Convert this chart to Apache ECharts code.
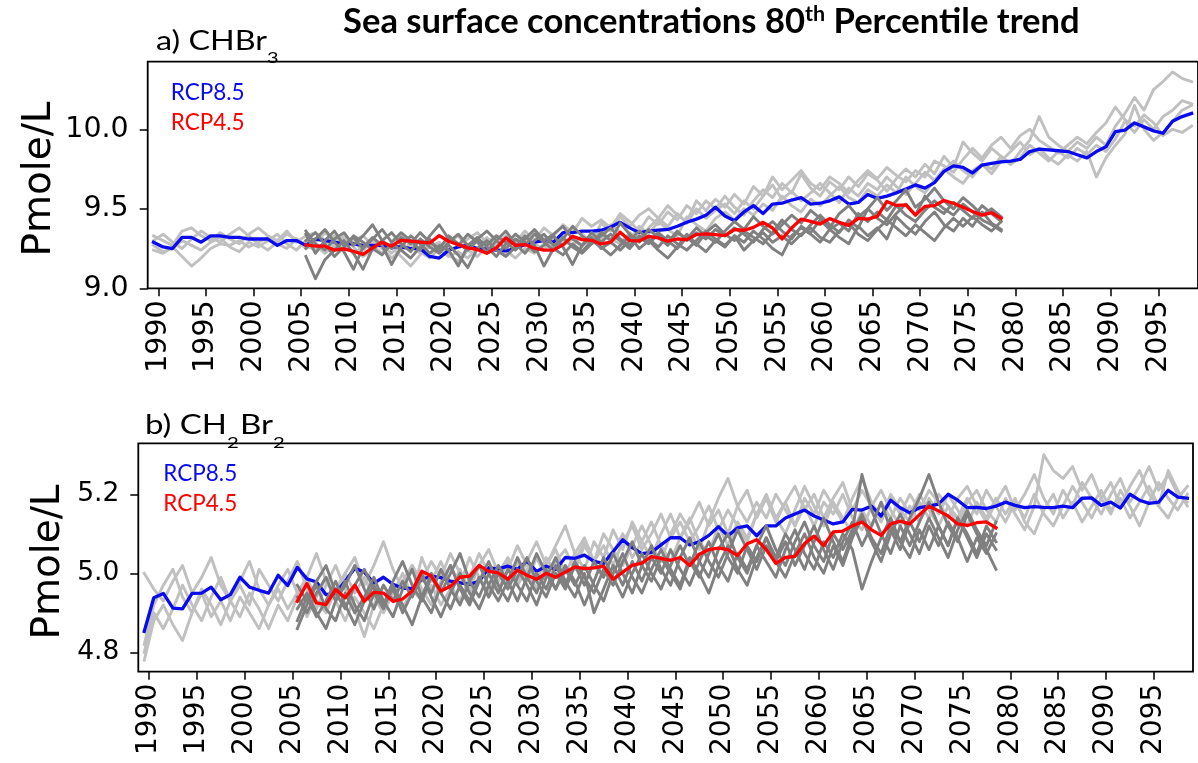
<!DOCTYPE html>
<html><head><meta charset="utf-8">
<script src="https://cdn.jsdelivr.net/npm/echarts@6/dist/echarts.min.js"></script>
<style>html,body{margin:0;padding:0;background:#fff}#c{width:1198px;height:763px}</style>
</head><body><div id="c"></div>
<script>
// ---------------- DATA ----------------
const HIST_START = 1989, HIST_END = 2098;   // RCP8.5 runs (annual means)
const RCP45_START = 2005, RCP45_END = 2078; // RCP4.5 runs (annual means)
const xTickValues = [1990,1995,2000,2005,2010,2015,2020,2025,2030,2035,2040,2045,2050,2055,2060,2065,2070,2075,2080,2085,2090,2095];
const yTicksA = [9.0, 9.5, 10.0];
const yTicksB = [4.8, 5.0, 5.2];
const legendNames = ['RCP8.5', 'RCP4.5'];
const chartTitle = ['Sea surface concentrations 80', 'th', ' Percentile trend'];
const yName = 'Pmole/L';

// a) CHBr3 - RCP8.5 ensemble 80th percentile (blue)
const chbr3_rcp85 = [
 9.29,9.26,9.25,9.32,9.32,9.29,9.33,9.33,9.32,9.32,
 9.31,9.31,9.31,9.27,9.30,9.30,9.27,9.31,9.30,9.29,
 9.28,9.28,9.27,9.27,9.27,9.26,9.26,9.25,9.25,9.20,
 9.19,9.24,9.26,9.27,9.25,9.25,9.24,9.235,9.25,9.275,
 9.29,9.30,9.29,9.35,9.35,9.36,9.36,9.365,9.385,9.415,
 9.38,9.35,9.36,9.365,9.37,9.39,9.415,9.435,9.46,9.51,
 9.455,9.425,9.48,9.52,9.47,9.53,9.535,9.555,9.57,9.53,
 9.535,9.55,9.575,9.53,9.54,9.59,9.565,9.58,9.60,9.625,
 9.65,9.63,9.665,9.735,9.77,9.76,9.725,9.775,9.785,9.795,
 9.80,9.81,9.86,9.875,9.87,9.865,9.86,9.84,9.82,9.86,
 9.89,9.985,9.995,10.04,10.015,9.99,9.975,10.05,10.08,10.10];
// a) CHBr3 - RCP4.5 (red)
const chbr3_rcp45 = [
 9.273,9.265,9.265,9.24,9.248,9.233,9.213,9.254,9.29,9.265,9.302,9.296,9.29,9.285,9.331,9.296,9.275,9.254,9.244,9.22,
 9.254,9.317,9.27,9.275,9.252,9.24,9.24,9.273,9.327,9.306,9.302,9.279,9.29,9.352,9.30,9.298,9.327,9.317,9.296,9.31,
 9.306,9.338,9.342,9.338,9.331,9.369,9.365,9.383,9.415,9.379,9.31,9.379,9.435,9.421,9.404,9.438,9.415,9.396,9.44,9.435,
 9.452,9.546,9.521,9.525,9.46,9.515,9.52,9.552,9.535,9.51,9.483,9.46,9.475,9.44];
// a) CHBr3 - individual RCP8.5 members (light grey)
const chbr3_rcp85_m1 = [
 9.33,9.30,9.27,9.36,9.38,9.33,9.30,9.35,9.31,9.28,
 9.34,9.38,9.33,9.30,9.36,9.29,9.33,9.35,9.30,9.26,
 9.31,9.29,9.24,9.30,9.27,9.22,9.28,9.25,9.31,9.27,
 9.23,9.29,9.33,9.26,9.30,9.22,9.27,9.33,9.29,9.36,
 9.30,9.38,9.33,9.40,9.35,9.44,9.39,9.43,9.38,9.47,
 9.42,9.36,9.45,9.40,9.48,9.43,9.52,9.47,9.55,9.50,
 9.58,9.51,9.46,9.55,9.62,9.57,9.66,9.60,9.72,9.63,
 9.58,9.67,9.62,9.70,9.64,9.72,9.68,9.61,9.69,9.75,
 9.70,9.78,9.72,9.83,9.76,9.92,9.85,9.80,9.88,9.83,
 9.78,9.86,9.93,10.08,9.95,9.90,9.86,9.92,9.88,9.95,
 9.90,10.02,10.10,10.20,10.12,10.25,10.30,10.36,10.32,10.30];
const chbr3_rcp85_m2 = [
 9.24,9.22,9.26,9.20,9.14,9.19,9.25,9.28,9.27,9.30,
 9.26,9.29,9.32,9.28,9.25,9.31,9.27,9.24,9.29,9.33,
 9.27,9.22,9.26,9.30,9.25,9.19,9.24,9.28,9.22,9.26,
 9.29,9.21,9.17,9.24,9.20,9.26,9.30,9.24,9.19,9.25,
 9.22,9.28,9.24,9.30,9.27,9.33,9.29,9.36,9.31,9.28,
 9.35,9.31,9.38,9.44,9.39,9.47,9.41,9.50,9.44,9.49,
 9.53,9.47,9.55,9.50,9.58,9.65,9.56,9.61,9.55,9.60,
 9.66,9.60,9.54,9.63,9.58,9.66,9.62,9.70,9.64,9.59,
 9.66,9.73,9.68,9.74,9.80,9.74,9.70,9.78,9.72,9.80,
 9.86,9.92,9.84,9.88,9.82,9.78,9.84,9.80,9.86,9.70,
 9.82,9.90,9.97,10.15,10.00,9.93,9.98,10.05,10.12,10.15];
const chbr3_rcp85_m3 = [
 9.30,9.34,9.29,9.25,9.31,9.36,9.32,9.29,9.34,9.38,
 9.33,9.28,9.24,9.29,9.34,9.31,9.25,9.29,9.35,9.30,
 9.24,9.30,9.33,9.27,9.22,9.28,9.33,9.29,9.23,9.19,
 9.25,9.30,9.27,9.31,9.35,9.29,9.33,9.28,9.34,9.30,
 9.35,9.31,9.26,9.33,9.38,9.34,9.29,9.41,9.36,9.45,
 9.39,9.46,9.50,9.44,9.52,9.46,9.42,9.55,9.49,9.56,
 9.51,9.59,9.53,9.64,9.58,9.70,9.62,9.68,9.74,9.66,
 9.62,9.70,9.66,9.60,9.68,9.74,9.69,9.76,9.71,9.67,
 9.74,9.70,9.80,9.77,9.73,9.81,9.88,9.82,9.90,9.95,
 9.88,9.96,10.00,9.93,9.89,9.85,9.90,9.95,9.91,9.98,
 10.04,10.14,10.06,10.02,10.09,10.04,9.96,10.00,9.98,10.02];
const chbr3_rcp85_m4 = [
 9.27,9.23,9.25,9.30,9.27,9.24,9.29,9.32,9.26,9.23,
 9.29,9.26,9.30,9.34,9.28,9.24,9.30,9.27,9.22,9.27,
 9.33,9.26,9.20,9.24,9.30,9.26,9.20,9.14,9.21,9.29,
 9.24,9.20,9.23,9.19,9.25,9.32,9.26,9.21,9.27,9.33,
 9.28,9.24,9.32,9.27,9.31,9.26,9.34,9.30,9.40,9.35,
 9.30,9.39,9.34,9.42,9.37,9.33,9.45,9.40,9.36,9.44,
 9.48,9.43,9.50,9.46,9.53,9.49,9.58,9.52,9.48,9.56,
 9.52,9.58,9.64,9.57,9.54,9.62,9.58,9.65,9.60,9.70,
 9.64,9.60,9.68,9.75,9.70,9.66,9.74,9.78,9.75,9.83,
 9.78,9.82,9.90,9.85,9.80,9.86,9.82,9.88,9.84,9.90,
 9.86,9.94,10.05,9.98,10.06,10.00,10.08,10.12,10.18,10.16];
// a) CHBr3 - individual RCP4.5 members (dark grey)
const chbr3_rcp45_m1 = [
 9.34,9.22,9.30,9.36,9.27,9.32,9.25,9.31,9.37,9.29,9.35,9.30,9.24,9.33,9.40,9.31,9.27,9.34,9.29,9.23,
 9.30,9.36,9.28,9.22,9.30,9.34,9.27,9.31,9.39,9.33,9.28,9.35,9.30,9.41,9.34,9.29,9.37,9.32,9.27,9.35,
 9.31,9.38,9.33,9.29,9.36,9.42,9.37,9.45,9.39,9.34,9.40,9.46,9.41,9.49,9.44,9.38,9.47,9.52,9.45,9.50,
 9.57,9.49,9.55,9.62,9.51,9.56,9.63,9.55,9.50,9.57,9.52,9.46,9.50,9.45];
const chbr3_rcp45_m2 = [
 9.20,9.06,9.18,9.24,9.30,9.22,9.12,9.25,9.21,9.28,9.24,9.19,9.26,9.31,9.23,9.27,9.21,9.13,9.25,9.30,
 9.24,9.20,9.26,9.33,9.27,9.14,9.25,9.21,9.28,9.23,9.30,9.26,9.21,9.27,9.33,9.25,9.30,9.24,9.19,9.26,
 9.34,9.28,9.23,9.30,9.26,9.33,9.29,9.36,9.31,9.25,9.21,9.33,9.38,9.34,9.29,9.37,9.32,9.28,9.39,9.33,
 9.38,9.31,9.45,9.39,9.34,9.42,9.48,9.40,9.36,9.44,9.39,9.48,9.41,9.37];
const chbr3_rcp45_m3 = [
 9.30,9.35,9.28,9.20,9.26,9.33,9.29,9.24,9.30,9.35,9.28,9.23,9.31,9.26,9.22,9.29,9.34,9.27,9.31,9.36,
 9.30,9.25,9.31,9.27,9.34,9.29,9.24,9.32,9.26,9.22,9.28,9.33,9.38,9.31,9.27,9.33,9.29,9.35,9.30,9.25,
 9.32,9.27,9.35,9.40,9.34,9.30,9.36,9.32,9.28,9.35,9.43,9.37,9.33,9.40,9.46,9.40,9.35,9.43,9.38,9.50,
 9.44,9.40,9.47,9.53,9.46,9.58,9.51,9.47,9.54,9.49,9.44,9.52,9.47,9.42];
const chbr3_rcp45_m4 = [
 9.25,9.31,9.37,9.29,9.23,9.12,9.26,9.32,9.27,9.15,9.26,9.33,9.28,9.22,9.27,9.24,9.14,9.27,9.32,9.26,
 9.20,9.28,9.34,9.29,9.23,9.27,9.33,9.26,9.15,9.27,9.32,9.25,9.29,9.24,9.30,9.36,9.31,9.26,9.33,9.28,
 9.24,9.30,9.36,9.31,9.27,9.33,9.24,9.30,9.35,9.29,9.33,9.28,9.34,9.38,9.32,9.29,9.36,9.41,9.34,9.30,
 9.37,9.43,9.38,9.33,9.40,9.35,9.30,9.38,9.44,9.39,9.45,9.40,9.36,9.42];
const chbr3_rcp45_m5 = [
 9.36,9.28,9.24,9.31,9.35,9.27,9.33,9.40,9.30,9.25,9.32,9.28,9.35,9.29,9.25,9.33,9.28,9.24,9.30,9.27,
 9.33,9.29,9.24,9.31,9.37,9.30,9.34,9.39,9.31,9.27,9.35,9.29,9.34,9.30,9.25,9.32,9.28,9.34,9.29,9.36,
 9.30,9.35,9.31,9.37,9.33,9.38,9.34,9.29,9.37,9.42,9.36,9.31,9.39,9.35,9.43,9.37,9.41,9.36,9.47,9.42,
 9.48,9.43,9.52,9.46,9.42,9.49,9.55,9.50,9.46,9.53,9.48,9.43,9.40,9.36];

// b) CH2Br2 - RCP8.5 (blue)
const ch2br2_rcp85 = [
 4.853,4.938,4.949,4.912,4.91,4.949,4.95,4.965,4.933,4.946,
 4.99,4.965,4.957,4.95,4.995,4.969,5.015,4.986,4.978,4.946,
 4.95,4.98,5.013,5.003,4.975,4.99,4.972,4.962,4.962,4.984,
 4.993,4.989,4.98,4.976,4.972,4.98,5.014,5.011,5.018,5.01,
 5.031,5.005,5.018,5.01,5.04,5.038,5.046,5.03,5.025,5.055,
 5.085,5.065,5.05,5.053,5.072,5.09,5.09,5.072,5.08,5.096,
 5.118,5.095,5.115,5.12,5.095,5.12,5.12,5.14,5.15,5.16,
 5.145,5.135,5.125,5.13,5.162,5.16,5.17,5.145,5.185,5.166,
 5.153,5.166,5.17,5.175,5.2,5.185,5.166,5.167,5.164,5.17,
 5.18,5.172,5.166,5.169,5.167,5.166,5.17,5.166,5.19,5.191,
 5.172,5.18,5.165,5.2,5.185,5.177,5.18,5.21,5.193,5.19];
// b) CH2Br2 - RCP4.5 (red)
const ch2br2_rcp45 = [
 4.929,4.974,4.925,4.921,4.959,4.938,4.97,4.929,4.952,4.95,4.929,4.935,4.955,5.005,4.993,4.955,4.967,4.99,4.993,5.02,
 5.005,5.001,4.985,5.008,4.995,4.985,5.0,4.99,5.003,5.016,5.012,5.014,5.018,4.985,5.003,5.02,5.026,5.042,5.038,5.033,
 5.04,5.02,5.048,5.06,5.064,5.06,5.045,5.075,5.085,5.06,5.025,5.04,5.043,5.075,5.094,5.07,5.105,5.107,5.12,5.13,
 5.11,5.096,5.125,5.132,5.125,5.148,5.17,5.158,5.145,5.125,5.121,5.128,5.13,5.115];
// b) CH2Br2 - individual RCP8.5 members (light grey)
const ch2br2_rcp85_m1 = [
 5.00,4.96,4.93,4.98,5.02,4.95,4.99,5.04,4.97,4.93,
 4.98,5.03,4.96,4.92,4.97,5.01,4.95,4.99,5.05,4.98,
 4.94,5.00,5.04,4.97,5.02,5.08,5.01,4.96,5.02,4.98,
 5.03,4.99,5.05,5.00,4.96,5.02,5.06,5.00,5.04,4.98,
 5.03,5.08,5.02,5.07,5.12,5.05,5.01,5.08,5.04,5.11,
 5.06,5.13,5.08,5.04,5.10,5.15,5.09,5.13,5.18,5.12,
 5.16,5.10,5.17,5.21,5.14,5.19,5.13,5.18,5.22,5.16,
 5.20,5.14,5.19,5.23,5.16,5.21,5.17,5.13,5.19,5.15,
 5.20,5.16,5.21,5.18,5.14,5.19,5.22,5.17,5.13,5.18,
 5.22,5.16,5.20,5.25,5.19,5.15,5.21,5.17,5.23,5.19,
 5.15,5.20,5.24,5.18,5.22,5.27,5.21,5.25,5.20,5.18];
const ch2br2_rcp85_m2 = [
 4.78,4.88,4.92,4.87,4.83,4.90,4.95,4.89,4.93,4.88,
 4.94,4.90,4.86,4.92,4.96,4.91,4.95,4.89,4.94,4.99,
 4.93,4.88,4.94,4.90,4.86,4.92,4.97,4.91,4.96,4.93,
 4.97,4.92,4.96,5.01,4.95,4.99,4.94,4.98,5.03,4.97,
 5.01,4.96,5.02,5.06,5.00,5.05,5.09,5.03,5.07,5.02,
 5.08,5.12,5.06,5.10,5.15,5.09,5.13,5.08,5.12,5.17,
 5.11,5.16,5.12,5.08,5.15,5.19,5.14,5.18,5.12,5.17,
 5.12,5.18,5.15,5.20,5.14,5.11,5.17,5.21,5.16,5.12,
 5.17,5.13,5.19,5.15,5.20,5.16,5.12,5.18,5.14,5.19,
 5.15,5.19,5.13,5.10,5.16,5.20,5.14,5.18,5.13,5.17,
 5.21,5.16,5.19,5.14,5.18,5.22,5.17,5.14,5.19,5.22];
const ch2br2_rcp85_m3 = [
 4.82,4.92,4.97,5.01,4.94,4.90,4.96,4.92,4.87,4.93,
 4.97,4.92,5.01,4.97,4.93,4.98,5.03,4.96,4.91,4.97,
 5.02,4.96,4.91,4.84,4.92,4.97,4.93,4.98,5.02,4.96,
 4.92,4.98,5.02,4.97,5.04,4.99,4.95,5.01,4.97,5.03,
 4.98,5.04,4.99,5.03,5.06,5.01,5.07,5.03,5.10,5.06,
 5.02,5.07,5.12,5.07,5.03,5.10,5.15,5.11,5.06,5.13,
 5.19,5.24,5.17,5.13,5.18,5.14,5.20,5.16,5.12,5.19,
 5.15,5.21,5.17,5.13,5.19,5.24,5.18,5.14,5.20,5.16,
 5.13,5.18,5.14,5.20,5.17,5.12,5.18,5.21,5.16,5.13,
 5.19,5.15,5.11,5.17,5.30,5.26,5.24,5.27,5.21,5.25,
 5.19,5.23,5.17,5.22,5.26,5.20,5.17,5.26,5.21,5.17];
const ch2br2_rcp85_m4 = [
 4.80,4.90,4.86,4.91,4.97,4.92,4.88,4.94,4.99,4.93,
 4.89,4.95,4.91,4.86,4.92,4.88,4.94,4.99,4.93,4.90,
 4.96,5.00,4.95,4.99,4.94,4.90,4.95,5.00,4.94,5.04,
 4.98,5.03,4.97,4.93,4.99,5.05,5.00,4.96,5.01,5.07,
 5.02,4.98,5.04,5.00,4.97,5.03,5.08,5.02,4.99,5.05,
 5.10,5.04,5.08,5.13,5.07,5.03,5.09,5.14,5.08,5.05,
 5.12,5.07,5.13,5.09,5.15,5.20,5.14,5.10,5.16,5.22,
 5.17,5.12,5.18,5.14,5.10,5.16,5.12,5.18,5.14,5.19,
 5.15,5.20,5.16,5.12,5.17,5.14,5.19,5.15,5.21,5.17,
 5.13,5.18,5.14,5.20,5.15,5.12,5.17,5.22,5.18,5.14,
 5.19,5.15,5.21,5.17,5.12,5.18,5.23,5.19,5.16,5.20];
// b) CH2Br2 - individual RCP4.5 members (dark grey)
const ch2br2_rcp45_m1 = [
 4.86,4.92,4.97,4.91,4.88,4.95,4.90,4.94,4.99,4.93,4.89,4.96,5.01,4.94,4.90,4.97,5.02,4.96,4.92,4.98,
 5.03,4.97,4.93,4.99,5.04,4.98,4.94,5.00,4.96,5.02,4.97,5.03,4.99,5.05,5.00,4.95,5.02,5.07,5.01,4.97,
 5.04,5.09,5.03,4.99,5.06,5.10,5.04,5.00,5.07,5.12,5.06,5.02,5.08,5.13,5.07,5.03,5.10,5.06,5.11,5.25,
 5.16,5.10,5.05,5.12,5.07,5.13,5.18,5.12,5.07,5.14,5.09,5.04,5.10,5.06];
const ch2br2_rcp45_m2 = [
 4.91,4.95,4.90,4.86,4.93,4.98,4.92,4.88,4.95,4.91,4.97,4.92,4.87,4.94,5.00,4.95,4.91,4.97,4.93,4.99,
 4.94,5.00,4.96,5.01,4.97,4.92,4.99,5.04,4.98,4.94,5.00,4.90,4.96,5.02,4.97,5.03,4.98,5.04,5.00,5.06,
 5.01,4.97,5.03,5.08,5.02,4.98,5.05,5.01,5.07,5.03,4.99,5.06,5.11,5.05,5.01,5.08,5.04,5.10,5.06,4.96,
 5.03,5.09,5.14,5.08,5.04,5.11,5.06,5.12,5.07,5.14,5.10,5.05,5.12,5.08];
const ch2br2_rcp45_m3 = [
 4.97,4.93,4.98,5.02,4.95,4.91,4.97,5.01,4.96,4.92,4.98,5.03,4.97,4.93,4.99,4.95,5.00,5.05,4.98,4.94,
 5.00,4.95,5.01,4.97,4.93,5.00,4.96,5.02,4.97,5.03,4.99,4.95,5.01,4.97,5.03,5.08,5.02,4.98,5.04,5.00,
 4.96,5.03,4.99,5.05,5.10,5.04,5.00,5.07,5.03,5.09,5.04,5.10,5.06,5.01,5.08,5.14,5.08,5.03,5.10,5.15,
 5.09,5.05,5.12,5.08,5.14,5.19,5.25,5.18,5.12,5.08,5.15,5.10,5.06,5.01];
const ch2br2_rcp45_m4 = [
 4.94,4.90,4.95,4.99,4.93,4.97,5.02,4.96,4.91,4.97,4.93,4.98,4.94,4.99,4.95,5.01,4.96,4.92,4.98,5.02,
 4.97,5.02,4.98,4.93,4.99,5.05,5.00,4.96,5.02,4.98,4.92,4.98,5.04,4.99,4.94,5.00,5.05,5.00,4.96,5.02,
 5.07,5.02,5.08,5.03,4.99,5.05,5.11,5.06,5.01,5.07,5.03,5.08,5.02,5.07,5.12,5.06,5.01,5.08,5.13,5.07,
 5.12,5.18,5.11,5.06,5.13,5.08,5.14,5.09,5.04,5.11,5.16,5.11,5.07,5.13];
const ch2br2_rcp45_m5 = [
 4.88,4.94,4.89,4.93,4.98,4.92,4.87,4.93,4.97,4.92,4.96,4.90,4.95,5.00,4.94,4.89,4.95,5.00,4.95,4.91,
 4.97,4.93,4.98,5.04,4.99,4.95,5.01,4.96,5.01,4.97,5.02,4.97,4.93,5.00,5.05,4.99,4.95,5.01,5.06,5.01,
 4.97,5.04,5.00,4.95,5.02,5.07,5.01,4.97,5.04,5.09,5.03,4.99,5.05,5.10,5.04,5.00,5.07,5.02,5.09,5.14,
 5.08,5.03,5.10,5.15,5.10,5.05,5.12,5.07,5.13,5.09,5.03,5.09,5.05,5.10];

// ---------------- BUILD ----------------
const histYears = []; for (let y = HIST_START; y <= HIST_END; y++) histYears.push(y);
const rcp45Years = []; for (let y = RCP45_START; y <= RCP45_END; y++) rcp45Years.push(y);
function check(arr, n, name){ if (arr.length !== n) throw new Error(name + ' has ' + arr.length + ' values, expected ' + n); }
[['chbr3_rcp85',chbr3_rcp85],['chbr3_rcp85_m1',chbr3_rcp85_m1],['chbr3_rcp85_m2',chbr3_rcp85_m2],['chbr3_rcp85_m3',chbr3_rcp85_m3],['chbr3_rcp85_m4',chbr3_rcp85_m4],
 ['ch2br2_rcp85',ch2br2_rcp85],['ch2br2_rcp85_m1',ch2br2_rcp85_m1],['ch2br2_rcp85_m2',ch2br2_rcp85_m2],['ch2br2_rcp85_m3',ch2br2_rcp85_m3],['ch2br2_rcp85_m4',ch2br2_rcp85_m4]]
 .forEach(([n,a]) => check(a, histYears.length, n));
[['chbr3_rcp45',chbr3_rcp45],['chbr3_rcp45_m1',chbr3_rcp45_m1],['chbr3_rcp45_m2',chbr3_rcp45_m2],['chbr3_rcp45_m3',chbr3_rcp45_m3],['chbr3_rcp45_m4',chbr3_rcp45_m4],['chbr3_rcp45_m5',chbr3_rcp45_m5],
 ['ch2br2_rcp45',ch2br2_rcp45],['ch2br2_rcp45_m1',ch2br2_rcp45_m1],['ch2br2_rcp45_m2',ch2br2_rcp45_m2],['ch2br2_rcp45_m3',ch2br2_rcp45_m3],['ch2br2_rcp45_m4',ch2br2_rcp45_m4],['ch2br2_rcp45_m5',ch2br2_rcp45_m5]]
 .forEach(([n,a]) => check(a, rcp45Years.length, n));

// annual means are centred on mid-year
const pairs = (yrs, vals) => vals.map((v, k) => [yrs[k] + 0.5, v]);

const C_BLUE = '#0a0aef', C_RED = '#ff0000', C_LIGHT = '#c0c0c0', C_DARK = '#808080';

function line(p, yrs, vals, color, width, z) {
  return { type: 'line', xAxisIndex: p, yAxisIndex: p, data: pairs(yrs, vals), showSymbol: false, symbol: 'none',
    silent: true, animation: false, z: z, clip: true,
    lineStyle: { color: color, width: width, join: 'round', cap: 'square' } };
}

const series = [];
[
  {p:0, r85:chbr3_rcp85, r45:chbr3_rcp45, m85:[chbr3_rcp85_m1,chbr3_rcp85_m2,chbr3_rcp85_m3,chbr3_rcp85_m4], m45:[chbr3_rcp45_m1,chbr3_rcp45_m2,chbr3_rcp45_m3,chbr3_rcp45_m4,chbr3_rcp45_m5]},
  {p:1, r85:ch2br2_rcp85, r45:ch2br2_rcp45, m85:[ch2br2_rcp85_m1,ch2br2_rcp85_m2,ch2br2_rcp85_m3,ch2br2_rcp85_m4], m45:[ch2br2_rcp45_m1,ch2br2_rcp45_m2,ch2br2_rcp45_m3,ch2br2_rcp45_m4,ch2br2_rcp45_m5]}
].forEach(d => {
  d.m85.forEach(m => series.push(line(d.p, histYears, m, C_LIGHT, 2.9, 2)));
  series.push(line(d.p, histYears, d.r85, C_BLUE, 3.3, 3));
  d.m45.forEach(m => series.push(line(d.p, rcp45Years, m, C_DARK, 2.9, 4)));
  series.push(line(d.p, rcp45Years, d.r45, C_RED, 3.3, 5));
});

const TICK_FONT = 'DejaVu Sans';
function xAxis(g, min, max, size) {
  return { type: 'value', gridIndex: g, min: min, max: max, splitLine: {show:false}, axisLine: {show:false},
    axisTick: {show:true, customValues: xTickValues, length: 8, lineStyle: {color:'#000', width:1.5}},
    axisLabel: {customValues: xTickValues, rotate: 90, margin: 12, fontFamily: TICK_FONT, fontSize: size, color: '#000',
      formatter: v => String(Math.round(v))} };
}
function yAxis(g, min, max, ticks, size) {
  return { type: 'value', gridIndex: g, min: min, max: max, splitLine: {show:false}, axisLine: {show:false},
    axisTick: {show:true, customValues: ticks, length: 8, lineStyle: {color:'#000', width:1.5}},
    axisLabel: {customValues: ticks, margin: 19, fontFamily: TICK_FONT, fontSize: size, color: '#000',
      formatter: v => v.toFixed(1)} };
}

// text helpers
const mctx = document.createElement('canvas').getContext('2d');
function tw(text, font){ mctx.font = font; return mctx.measureText(text).width; }
function midOff(font){
  mctx.font = font; mctx.textBaseline = 'alphabetic';
  const a = mctx.measureText('H').actualBoundingBoxAscent;
  mctx.textBaseline = 'middle';
  const b = mctx.measureText('H').actualBoundingBoxAscent;
  mctx.textBaseline = 'alphabetic';
  return a - b;
}
function txt(x, yBase, text, font, color) {
  return { type: 'text', x: x, y: yBase - midOff(font), silent: true, z: 100,
    style: { text: text, font: font, fill: color, align: 'left', verticalAlign: 'middle' } };
}

const graphics = [];
// chart title
(function(){
  const f = s => 'bold ' + s + 'px Lato';
  const wAt = s => tw(chartTitle[0], f(s)) + tw(chartTitle[1], f(s*0.62)) + tw(chartTitle[2], f(s));
  const F = 30 * 737 / wAt(30);
  const fm = f(F.toFixed(1)), fs = f((F*0.62).toFixed(1));
  let x = 343; const base = 33;
  graphics.push(txt(x, base, chartTitle[0], fm, '#000')); x += tw(chartTitle[0], fm);
  graphics.push(txt(x, base - F*0.36, chartTitle[1], fs, '#000')); x += tw(chartTitle[1], fs);
  graphics.push(txt(x, base, chartTitle[2], fm, '#000'));
})();
// panel titles with subscripts (text box stretched horizontally as in the original)
function panelLabel(x0, parts, base, subBase, targetW) {
  const fm = '26px Lato', fs = '16px Lato';
  const s = targetW / tw(parts[0][0], fm);
  const children = []; let x = 0;
  parts.forEach(([t, sub]) => {
    const f = sub ? fs : fm;
    children.push(txt(x, sub ? subBase : base, t, f, '#000'));
    x += tw(t, f) + (sub ? 1 : 0);
  });
  graphics.push({ type: 'group', x: x0, y: 0, scaleX: s, children: children });
}
panelLabel(156, [['a) CHBr', false], ['3', true]], 49.5, 62.5, 111);
panelLabel(145, [['b) CH', false], ['2', true], ['Br', false], ['2', true]], 433.5, 447.5, 82);
// in-plot legends
[[170.7, 100, 130], [163.3, 481, 511]].forEach(([x, b1, b2]) => {
  graphics.push(txt(x, b1, legendNames[0], '22.5px Lato', C_BLUE));
  graphics.push(txt(x, b2, legendNames[1], '22.5px Lato', C_RED));
});
// y-axis names (rotated)
(function(){
  const f = '39px "DejaVu Sans"';
  const off = midOff(f);
  [[50, 179], [58.5, 562]].forEach(([xb, yc]) => {
    graphics.push({ type: 'text', x: xb - off, y: yc, rotation: Math.PI/2, silent: true, z: 100,
      style: { text: yName, font: f, fill: '#000', align: 'center', verticalAlign: 'middle' } });
  });
})();

const option = {
  animation: false,
  backgroundColor: '#fff',
  grid: [
    { left: 147.7, top: 61.7, width: 1054.3, height: 226.6, show: true, borderColor: '#000', borderWidth: 1.8, containLabel: false },
    { left: 138.3, top: 443.3, width: 1054.7, height: 228.4, show: true, borderColor: '#000', borderWidth: 1.8, containLabel: false }
  ],
  xAxis: [ xAxis(0, 1988.891, 2099.17, 28.5), xAxis(1, 1988.882, 2099.09, 28) ],
  yAxis: [ yAxis(0, 9.0, 10.425, yTicksA, 28.5), yAxis(1, 4.751, 5.329, yTicksB, 26.5) ],
  series: series,
  graphic: graphics
};
const chart = echarts.init(document.getElementById('c'), null, {renderer: 'canvas', width: 1198, height: 763});
chart.setOption(option);
</script></body></html>
